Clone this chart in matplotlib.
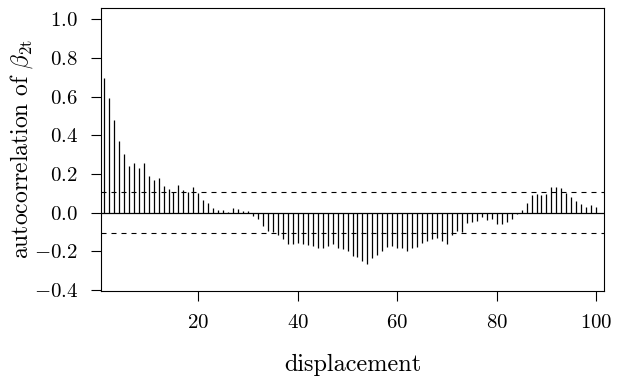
import numpy as np
import matplotlib
matplotlib.use("Agg")
import matplotlib.pyplot as plt

plt.rcParams['font.family'] = 'serif'
plt.rcParams['font.serif'] = ['cmr10']
plt.rcParams['mathtext.fontset'] = 'cm'
plt.rcParams['axes.formatter.use_mathtext'] = True

# autocorrelation at displacements 1..100
lags = np.arange(1, 101)
acf = [
    0.695, 0.593, 0.478, 0.371, 0.305, 0.241, 0.259, 0.229, 0.259, 0.190,
    0.169, 0.178, 0.138, 0.121, 0.109, 0.141, 0.116, 0.105, 0.131, 0.100,
    0.066, 0.050, 0.022, 0.016, 0.014, 0.004, 0.022, 0.017, 0.007, 0.008,
    -0.016, -0.034, -0.069, -0.093, -0.100, -0.115, -0.138, -0.162, -0.164, -0.159,
    -0.160, -0.167, -0.172, -0.181, -0.184, -0.171, -0.160, -0.184, -0.190, -0.200,
    -0.224, -0.231, -0.248, -0.266, -0.236, -0.216, -0.200, -0.176, -0.172, -0.181,
    -0.184, -0.197, -0.184, -0.176, -0.159, -0.147, -0.138, -0.133, -0.147, -0.164,
    -0.116, -0.092, -0.098, -0.055, -0.048, -0.043, -0.022, -0.038, -0.034, -0.057,
    -0.057, -0.048, -0.031, -0.005, 0.012, 0.050, 0.090, 0.098, 0.092, 0.098,
    0.131, 0.133, 0.127, 0.100, 0.080, 0.062, 0.047, 0.032, 0.041, 0.032,
]
conf = 0.106
xticks = [20, 40, 60, 80, 100]
yticks = [-0.4, -0.2, 0.0, 0.2, 0.4, 0.6, 0.8, 1.0]

fig = plt.figure(figsize=(6.19, 3.81), dpi=100)
ax = fig.add_axes([0.163, 0.236, 0.813, 0.743])

ax.vlines(lags, 0, acf, color='black', linewidth=0.9)
ax.axhline(0, color='black', linewidth=0.9)
ax.axhline(conf, color='black', linewidth=0.8, linestyle=(0, (4.5, 4.5)))
ax.axhline(-conf, color='black', linewidth=0.8, linestyle=(0, (4.5, 4.5)))

ax.set_xlim(0.4, 101.6)
ax.set_ylim(-0.405, 1.058)
ax.set_xticks(xticks)
ax.set_yticks(yticks)
ax.tick_params(direction='out', length=7.5, width=0.8, labelsize=15, pad=9)
for s in ax.spines.values():
    s.set_linewidth(0.8)

ax.set_xlabel('displacement', fontsize=17.5, labelpad=16)
ax.set_ylabel(r'autocorrelation of $\beta_{2\mathrm{t}}$', fontsize=17,
              va='center')
ax.yaxis.set_label_coords(-0.158, 0.5)

fig.savefig('out.png', dpi=100)
